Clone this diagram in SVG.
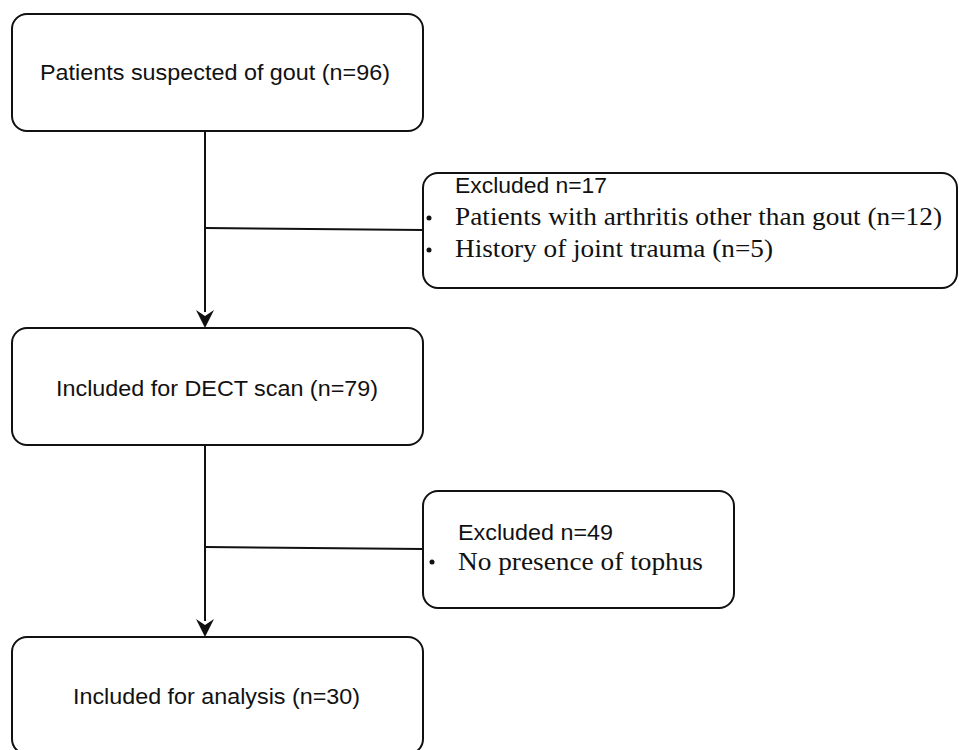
<svg xmlns="http://www.w3.org/2000/svg" width="959" height="750" viewBox="0 0 959 750">
<style>
.box{fill:#fff;stroke:#111;stroke-width:2}
.sans{font-family:"Liberation Sans",Arial,sans-serif;font-size:22px;fill:#111}
.serif{font-family:"Liberation Serif","Times New Roman",serif;font-size:26px;fill:#111}
.ln{stroke:#111;stroke-width:2;fill:none}
.dot{fill:#111}
.head{fill:#111}
</style>
<rect width="959" height="750" fill="#fff"/>
<g id="connectors">
<line class="ln" x1="205" y1="131" x2="205" y2="312"/>
<path class="head" d="M196,310 L205,316 L214,310 L205,328 Z"/>
<line class="ln" x1="205" y1="228" x2="423" y2="230"/>
<line class="ln" x1="205" y1="445" x2="205" y2="621"/>
<path class="head" d="M196,619 L205,625 L214,619 L205,637 Z"/>
<line class="ln" x1="205" y1="547" x2="423" y2="549"/>
</g>
<g id="n1">
<rect class="box" x="12" y="14" width="411" height="117" rx="15"/>
<text class="sans" x="40" y="80" textLength="350" lengthAdjust="spacingAndGlyphs">Patients suspected of gout (n=96)</text>
</g>
<g id="ex1">
<rect class="box" x="423" y="173" width="534" height="115" rx="15"/>
<text class="sans" x="455" y="193" textLength="152" lengthAdjust="spacingAndGlyphs">Excluded n=17</text>
<circle class="dot" cx="429" cy="218" r="2.5"/>
<text class="serif" x="455" y="225" textLength="487" lengthAdjust="spacingAndGlyphs">Patients with arthritis other than gout (n=12)</text>
<circle class="dot" cx="429" cy="250" r="2.5"/>
<text class="serif" x="455" y="257" textLength="318" lengthAdjust="spacingAndGlyphs">History of joint trauma (n=5)</text>
</g>
<g id="n2">
<rect class="box" x="12" y="328" width="411" height="117" rx="15"/>
<text class="sans" x="56" y="396" textLength="322" lengthAdjust="spacingAndGlyphs">Included for DECT scan (n=79)</text>
</g>
<g id="ex2">
<rect class="box" x="423" y="491" width="311" height="117" rx="15"/>
<text class="sans" x="458" y="540" textLength="155" lengthAdjust="spacingAndGlyphs">Excluded n=49</text>
<circle class="dot" cx="432" cy="562" r="2.5"/>
<text class="serif" x="458" y="570" textLength="245" lengthAdjust="spacingAndGlyphs">No presence of tophus</text>
</g>
<g id="n3">
<rect class="box" x="12" y="637" width="411" height="117" rx="15"/>
<text class="sans" x="73" y="704" textLength="287" lengthAdjust="spacingAndGlyphs">Included for analysis (n=30)</text>
</g>
</svg>
